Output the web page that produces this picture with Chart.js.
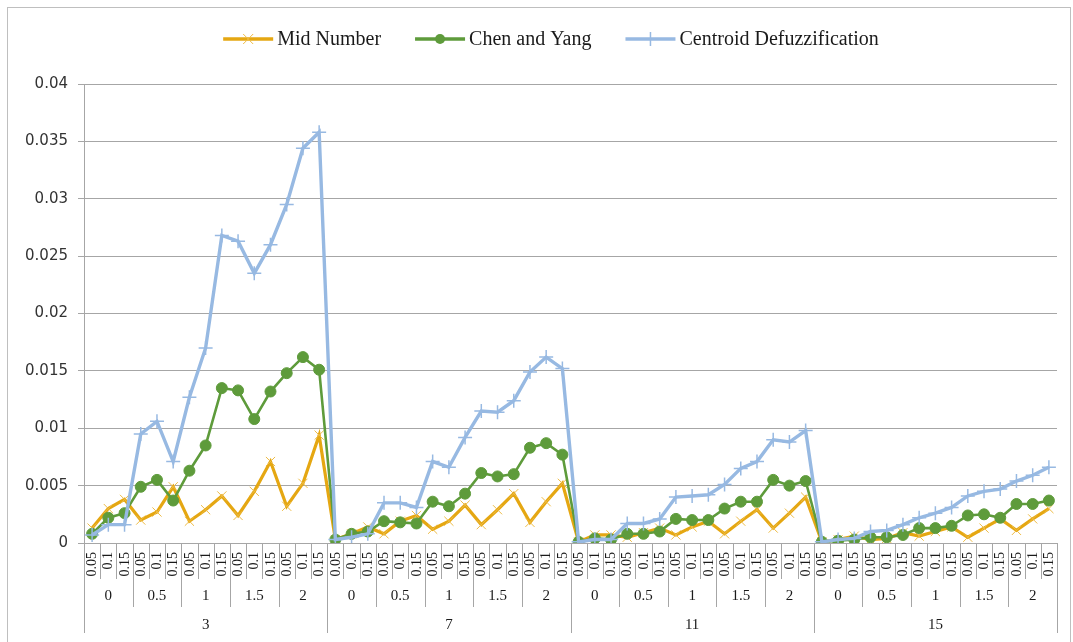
<!DOCTYPE html>
<html>
<head>
<meta charset="utf-8">
<script src="https://cdn.jsdelivr.net/npm/chart.js@4/dist/chart.umd.min.js"></script>
<style>
html,body{margin:0;padding:0;background:#fff;}
#wrap{position:relative;width:1073px;height:642px;}
</style>
</head>
<body>
<div id="wrap"><canvas id="c"></canvas></div>
<script>
// ---- data ----
const groups = ['3', '7', '11', '15'];
const subs = ['0', '0.5', '1', '1.5', '2'];
const alphas = ['0.05', '0.1', '0.15'];
const yTickLabels = ['0', '0.005', '0.01', '0.015', '0.02', '0.025', '0.03', '0.035', '0.04'];

const midNumber = [
  0.0013, 0.0030, 0.0038, 0.0020, 0.0027, 0.0049, 0.0019, 0.0029, 0.0041, 0.0024, 0.0045, 0.0071, 0.0032, 0.0052, 0.0094,
  0.0003, 0.0008, 0.0014, 0.0008, 0.0019, 0.0024, 0.0012, 0.0019, 0.0033, 0.0016, 0.0029, 0.0043, 0.0018, 0.0036, 0.0052,
  0.0001, 0.0007, 0.0007, 0.0005, 0.0009, 0.0013, 0.0007, 0.0014, 0.0019, 0.0008, 0.0019, 0.0029, 0.0013, 0.0026, 0.0040,
  0.0001, 0.0003, 0.0006, 0.0003, 0.0004, 0.0009, 0.0006, 0.0010, 0.0014, 0.0005, 0.0013, 0.0021, 0.0011, 0.0021, 0.0030
];
const chenYang = [
  0.0008, 0.0022, 0.0026, 0.0049, 0.0055, 0.0037, 0.0063, 0.0085, 0.0135, 0.0133, 0.0108, 0.0132, 0.0148, 0.0162, 0.0151,
  0.0003, 0.0008, 0.0010, 0.0019, 0.0018, 0.0017, 0.0036, 0.0032, 0.0043, 0.0061, 0.0058, 0.0060, 0.0083, 0.0087, 0.0077,
  0.0001, 0.0004, 0.0003, 0.0008, 0.0008, 0.0010, 0.0021, 0.0020, 0.0020, 0.0030, 0.0036, 0.0036, 0.0055, 0.0050, 0.0054,
  0.0001, 0.0002, 0.0003, 0.0005, 0.0005, 0.0007, 0.0013, 0.0013, 0.0015, 0.0024, 0.0025, 0.0022, 0.0034, 0.0034, 0.0037
];
const centroid = [
  0.0007, 0.0016, 0.0016, 0.0095, 0.0106, 0.0071, 0.0127, 0.0170, 0.0268, 0.0263, 0.0235, 0.0260, 0.0295, 0.0344, 0.0358,
  0.0003, 0.0005, 0.0008, 0.0035, 0.0035, 0.0031, 0.0071, 0.0066, 0.0092, 0.0115, 0.0114, 0.0124, 0.0149, 0.0162, 0.0152,
  0.0001, 0.0003, 0.0003, 0.0017, 0.0017, 0.0021, 0.0040, 0.0041, 0.0042, 0.0051, 0.0065, 0.0071, 0.0090, 0.0088, 0.0098,
  0.0001, 0.0003, 0.0004, 0.0010, 0.0011, 0.0016, 0.0022, 0.0026, 0.0031, 0.0041, 0.0045, 0.0047, 0.0054, 0.0059, 0.0066
];
const seriesNames = ['Mid Number', 'Chen and Yang', 'Centroid Defuzzification'];

// ---- build categories ----
const categories = [];
groups.forEach(g => subs.forEach(s => alphas.forEach(a => categories.push(g + '|' + s + '|' + a))));

const ORANGE = '#E5A712', GREEN = '#5E9B3B', BLUE = '#97B9E2';
const GRID = '#a6a6a6';
const SERIF = '"Liberation Serif", "Times New Roman", serif';

// ---- custom plugin: frame, hierarchical x axis, legend ----
const excelDecor = {
  id: 'excelDecor',
  beforeDraw(chart) {
    const ctx = chart.ctx;
    ctx.save();
    ctx.strokeStyle = '#bfbfbf';
    ctx.lineWidth = 1;
    ctx.strokeRect(7.5, 7.5, 1063, 650);
    ctx.restore();
  },
  afterDraw(chart) {
    const ctx = chart.ctx;
    const xs = chart.scales.x;
    const area = chart.chartArea;
    const n = categories.length;
    const half = (xs.getPixelForValue(1) - xs.getPixelForValue(0)) / 2;
    const yAxis = Math.round(area.bottom) + 0.5;
    ctx.save();
    // separators
    ctx.strokeStyle = GRID;
    ctx.lineWidth = 1;
    for (let i = 0; i <= n; i++) {
      const x = Math.round(i < n ? xs.getPixelForValue(i) - half : xs.getPixelForValue(n - 1) + half) + 0.5;
      let yEnd = 579;
      if (i % (alphas.length * subs.length) === 0) yEnd = 633;
      else if (i % alphas.length === 0) yEnd = 607;
      ctx.beginPath();
      ctx.moveTo(x, yAxis);
      ctx.lineTo(x, yEnd);
      ctx.stroke();
    }
    // innermost rotated labels
    ctx.fillStyle = '#1a1a1a';
    ctx.font = '14px ' + SERIF;
    ctx.textBaseline = 'middle';
    categories.forEach((c, i) => {
      const lab = c.split('|')[2];
      const x = xs.getPixelForValue(i);
      ctx.save();
      ctx.translate(x + 0.5, 552);
      ctx.rotate(-Math.PI / 2);
      ctx.textAlign = 'right';
      ctx.fillText(lab, 0, 0);
      ctx.restore();
    });
    // sub labels
    ctx.textAlign = 'center';
    ctx.font = '15px ' + SERIF;
    const per = alphas.length;
    for (let k = 0; k < groups.length * subs.length; k++) {
      const x0 = xs.getPixelForValue(k * per), x1 = xs.getPixelForValue(k * per + per - 1);
      ctx.fillText(subs[k % subs.length], (x0 + x1) / 2, 596);
    }
    // group labels
    const perG = per * subs.length;
    groups.forEach((g, k) => {
      const x0 = xs.getPixelForValue(k * perG), x1 = xs.getPixelForValue(k * perG + perG - 1);
      ctx.fillText(g, (x0 + x1) / 2, 625);
    });

    // legend
    ctx.font = '20px ' + SERIF;
    ctx.textAlign = 'left';
    const lineLen = 50, gapText = 4, gapItem = 34;
    const widths = chart.data.datasets.map(d => lineLen + gapText + ctx.measureText(d.label).width);
    const total = widths.reduce((a, b) => a + b, 0) + gapItem * (widths.length - 1);
    let lx = 551 - total / 2;
    const ly = 39;
    chart.data.datasets.forEach((d, i) => {
      ctx.strokeStyle = d.borderColor;
      ctx.lineWidth = 3.5;
      ctx.beginPath();
      ctx.moveTo(lx, ly);
      ctx.lineTo(lx + lineLen, ly);
      ctx.stroke();
      const cx = lx + lineLen / 2;
      ctx.strokeStyle = d.pointBorderColor;
      ctx.fillStyle = d.pointBackgroundColor;
      ctx.lineWidth = d.pointBorderWidth;
      if (d.pointStyle === 'circle') {
        ctx.beginPath(); ctx.arc(cx, ly, 5, 0, Math.PI * 2); ctx.fill();
      } else if (d.pointStyle === 'crossRot') {
        ctx.beginPath();
        ctx.moveTo(cx - 5, ly - 5); ctx.lineTo(cx + 5, ly + 5);
        ctx.moveTo(cx + 5, ly - 5); ctx.lineTo(cx - 5, ly + 5);
        ctx.stroke();
      } else {
        ctx.beginPath();
        ctx.moveTo(cx, ly - 7); ctx.lineTo(cx, ly + 7);
        ctx.stroke();
      }
      ctx.fillStyle = '#1a1a1a';
      ctx.fillText(d.label, lx + lineLen + gapText, ly + 1);
      lx += widths[i] + gapItem;
    });
    ctx.restore();
  }
};

new Chart(document.getElementById('c'), {
  type: 'line',
  data: {
    labels: categories,
    datasets: [
      {
        label: seriesNames[0], data: midNumber, order: 2,
        borderColor: ORANGE, borderWidth: 3.2,
        pointStyle: 'crossRot', pointRadius: 6.5, pointBorderWidth: 1,
        pointBorderColor: '#EDBB45', pointBackgroundColor: '#EDBB45', tension: 0
      },
      {
        label: seriesNames[1], data: chenYang, order: 1,
        borderColor: GREEN, borderWidth: 2.6,
        pointStyle: 'circle', pointRadius: 5.5, pointBorderWidth: 1,
        pointBorderColor: GREEN, pointBackgroundColor: GREEN, tension: 0
      },
      {
        label: seriesNames[2], data: centroid, order: 0,
        borderColor: BLUE, borderWidth: 3.4,
        pointStyle: 'cross', pointRadius: 7, pointBorderWidth: 1.5,
        pointBorderColor: BLUE, pointBackgroundColor: BLUE, tension: 0
      }
    ]
  },
  options: {
    responsive: true,
    maintainAspectRatio: false,
    animation: false,
    events: [],
    layout: { padding: { left: 0, right: 16, top: 84, bottom: 0 } },
    plugins: { legend: { display: false }, tooltip: { enabled: false } },
    scales: {
      x: {
        type: 'category',
        offset: true,
        grid: { display: false },
        border: { display: true, color: GRID, width: 1 },
        ticks: { display: false },
        afterFit(scale) { scale.height = 99; }
      },
      y: {
        min: 0, max: 0.04,
        ticks: {
          stepSize: 0.005,
          padding: 10,
          color: '#333',
          font: { family: '"DejaVu Sans", sans-serif', size: 15 },
          callback: (v) => {
            const i = Math.round(v / 0.005);
            return yTickLabels[i] !== undefined ? yTickLabels[i] : '';
          }
        },
        grid: { color: GRID, lineWidth: 1, tickLength: 6, drawTicks: true },
        border: { display: true, color: GRID, width: 1 },
        afterFit(scale) { scale.width = 84; }
      }
    }
  },
  plugins: [excelDecor]
});
</script>
</body>
</html>
